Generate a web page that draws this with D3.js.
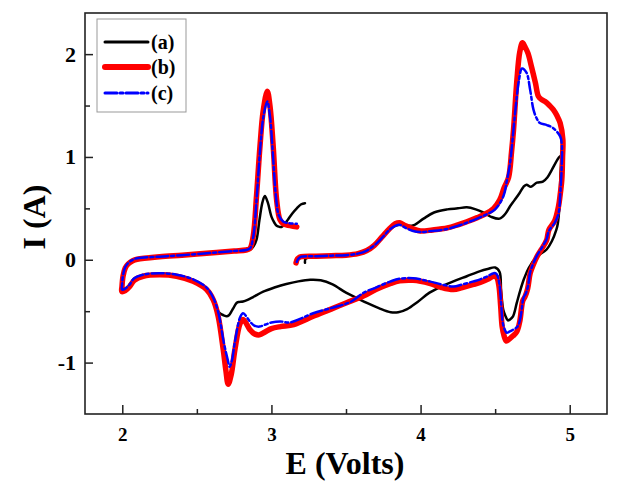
<!DOCTYPE html>
<html>
<head>
<meta charset="utf-8">
<script src="https://cdn.jsdelivr.net/npm/d3@7/dist/d3.min.js"></script>
<style>
  html, body { margin: 0; padding: 0; background: #fff; }
  svg { display: block; }
  text { font-family: "Liberation Serif", "Times New Roman", serif; font-weight: bold; fill: #000; }
</style>
</head>
<body>
<svg id="chart" width="621" height="493"></svg>
<script>
// ---- data (E in volts, I in amps) ----
const seriesLabels = ["(a)", "(b)", "(c)"];
const xTicks = [2, 3, 4, 5];
const xMinorTicks = [2.5, 3.5, 4.5];
const yTicks = [-1, 0, 1, 2];
const yMinorTicks = [-0.5, 0.5, 1.5];

const curveA = [[3.225,-0.03],[3.23,0.01],[3.30,0.03],[3.40,0.035],[3.50,0.045],[3.58,0.06],[3.64,0.09],[3.69,0.14],[3.74,0.22],[3.79,0.29],[3.83,0.33],[3.87,0.34],[3.92,0.33],[3.96,0.34],[4.02,0.40],[4.09,0.46],[4.18,0.49],[4.25,0.50],[4.31,0.51],[4.37,0.49],[4.42,0.46],[4.47,0.42],[4.53,0.40],[4.57,0.45],[4.60,0.52],[4.63,0.58],[4.664,0.65],[4.69,0.71],[4.71,0.73],[4.74,0.71],[4.78,0.75],[4.82,0.76],[4.85,0.80],[4.88,0.875],[4.925,0.99],[4.94,1.01],[4.937,0.80],[4.93,0.50],[4.92,0.35],[4.91,0.29],[4.88,0.18],[4.845,0.10],[4.78,0.03],[4.725,-0.08],[4.695,-0.18],[4.67,-0.29],[4.645,-0.42],[4.62,-0.55],[4.60,-0.58],[4.585,-0.59],[4.57,-0.55],[4.555,-0.49],[4.54,-0.30],[4.53,-0.12],[4.50,-0.075],[4.45,-0.09],[4.40,-0.11],[4.31,-0.16],[4.22,-0.21],[4.14,-0.26],[4.06,-0.32],[3.98,-0.41],[3.91,-0.48],[3.85,-0.51],[3.80,-0.51],[3.72,-0.47],[3.64,-0.42],[3.57,-0.37],[3.50,-0.32],[3.41,-0.24],[3.33,-0.20],[3.26,-0.195],[3.18,-0.21],[3.10,-0.235],[3.02,-0.27],[2.945,-0.31],[2.88,-0.36],[2.84,-0.39],[2.81,-0.405],[2.78,-0.41],[2.766,-0.42],[2.745,-0.47],[2.733,-0.50],[2.715,-0.54],[2.70,-0.55],[2.68,-0.54],[2.654,-0.52],[2.63,-0.47],[2.60,-0.37],[2.565,-0.29],[2.475,-0.20],[2.364,-0.15],[2.25,-0.135],[2.14,-0.15],[2.08,-0.19],[2.05,-0.24],[2.02,-0.28],[1.998,-0.29],[2.0,-0.24],[2.005,-0.15],[2.02,-0.07],[2.04,-0.03],[2.07,0.0],[2.10,0.01],[2.25,0.03],[2.40,0.045],[2.587,0.063],[2.75,0.08],[2.83,0.09],[2.86,0.10],[2.88,0.13],[2.90,0.195],[2.92,0.39],[2.94,0.56],[2.956,0.62],[2.975,0.56],[3.00,0.42],[3.02,0.36],[3.035,0.33],[3.055,0.32],[3.07,0.32],[3.09,0.35],[3.11,0.39],[3.14,0.45],[3.17,0.50],[3.20,0.54],[3.225,0.55]];

const curveB = [[3.165,-0.03],[3.175,0.01],[3.20,0.03],[3.30,0.035],[3.40,0.04],[3.50,0.045],[3.58,0.06],[3.64,0.09],[3.69,0.14],[3.74,0.22],[3.79,0.30],[3.83,0.35],[3.86,0.36],[3.90,0.33],[3.95,0.30],[4.00,0.28],[4.08,0.29],[4.18,0.31],[4.25,0.34],[4.31,0.37],[4.38,0.41],[4.44,0.45],[4.49,0.50],[4.53,0.58],[4.56,0.70],[4.59,0.80],[4.61,1.05],[4.623,1.26],[4.646,1.75],[4.665,2.02],[4.683,2.11],[4.70,2.07],[4.72,2.01],[4.745,1.87],[4.77,1.72],[4.79,1.59],[4.81,1.56],[4.835,1.54],[4.865,1.50],[4.89,1.46],[4.915,1.40],[4.936,1.33],[4.954,1.17],[4.952,1.0],[4.947,0.78],[4.935,0.62],[4.925,0.52],[4.90,0.38],[4.86,0.29],[4.845,0.19],[4.81,0.10],[4.78,0.03],[4.755,-0.05],[4.735,-0.13],[4.718,-0.28],[4.70,-0.36],[4.685,-0.40],[4.665,-0.60],[4.645,-0.70],[4.62,-0.74],[4.595,-0.77],[4.575,-0.79],[4.56,-0.74],[4.547,-0.65],[4.537,-0.45],[4.525,-0.25],[4.51,-0.17],[4.49,-0.16],[4.45,-0.19],[4.40,-0.22],[4.355,-0.24],[4.28,-0.27],[4.22,-0.29],[4.14,-0.27],[4.06,-0.23],[3.95,-0.20],[3.86,-0.205],[3.80,-0.23],[3.70,-0.29],[3.62,-0.35],[3.50,-0.42],[3.40,-0.48],[3.28,-0.55],[3.15,-0.63],[3.06,-0.65],[3.00,-0.67],[2.96,-0.70],[2.92,-0.73],[2.885,-0.72],[2.856,-0.68],[2.81,-0.58],[2.79,-0.62],[2.755,-0.875],[2.73,-1.12],[2.71,-1.21],[2.695,-1.08],[2.677,-0.875],[2.643,-0.55],[2.61,-0.39],[2.565,-0.29],[2.475,-0.21],[2.364,-0.16],[2.25,-0.146],[2.14,-0.16],[2.08,-0.20],[2.05,-0.26],[2.02,-0.30],[1.997,-0.31],[1.998,-0.26],[2.005,-0.16],[2.02,-0.08],[2.04,-0.04],[2.07,-0.01],[2.10,0.005],[2.25,0.03],[2.40,0.045],[2.587,0.065],[2.75,0.085],[2.83,0.095],[2.856,0.11],[2.878,0.23],[2.90,0.62],[2.923,1.10],[2.945,1.45],[2.972,1.64],[2.99,1.50],[3.012,1.10],[3.035,0.58],[3.057,0.39],[3.08,0.35],[3.10,0.34],[3.17,0.32]];

const curveC = [[3.17,-0.02],[3.18,0.01],[3.20,0.03],[3.30,0.035],[3.40,0.04],[3.50,0.045],[3.58,0.06],[3.64,0.09],[3.69,0.14],[3.74,0.21],[3.79,0.29],[3.83,0.33],[3.86,0.34],[3.90,0.31],[3.95,0.28],[4.00,0.27],[4.08,0.28],[4.18,0.30],[4.25,0.33],[4.31,0.36],[4.38,0.40],[4.44,0.44],[4.50,0.49],[4.556,0.62],[4.58,0.78],[4.60,0.94],[4.634,1.43],[4.66,1.75],[4.68,1.86],[4.71,1.82],[4.735,1.65],[4.757,1.46],[4.78,1.37],[4.80,1.33],[4.847,1.31],[4.89,1.28],[4.936,1.20],[4.947,1.12],[4.946,0.90],[4.937,0.65],[4.925,0.45],[4.90,0.36],[4.86,0.28],[4.845,0.20],[4.81,0.11],[4.78,0.04],[4.755,-0.04],[4.735,-0.12],[4.72,-0.26],[4.705,-0.33],[4.69,-0.37],[4.67,-0.56],[4.65,-0.65],[4.62,-0.68],[4.595,-0.70],[4.578,-0.71],[4.562,-0.67],[4.55,-0.60],[4.54,-0.42],[4.528,-0.23],[4.51,-0.14],[4.49,-0.13],[4.45,-0.16],[4.40,-0.19],[4.355,-0.21],[4.28,-0.24],[4.22,-0.26],[4.14,-0.24],[4.06,-0.21],[3.95,-0.18],[3.86,-0.185],[3.80,-0.21],[3.70,-0.27],[3.62,-0.32],[3.53,-0.41],[3.40,-0.47],[3.28,-0.52],[3.20,-0.57],[3.12,-0.61],[3.06,-0.60],[3.00,-0.61],[2.96,-0.63],[2.92,-0.65],[2.885,-0.64],[2.856,-0.60],[2.81,-0.52],[2.79,-0.56],[2.755,-0.80],[2.735,-0.98],[2.72,-1.04],[2.705,-0.96],[2.68,-0.80],[2.645,-0.52],[2.61,-0.37],[2.565,-0.27],[2.475,-0.19],[2.364,-0.145],[2.25,-0.13],[2.14,-0.145],[2.08,-0.18],[2.05,-0.24],[2.02,-0.28],[1.998,-0.29],[1.999,-0.24],[2.005,-0.15],[2.02,-0.07],[2.04,-0.03],[2.07,0.0],[2.10,0.015],[2.25,0.03],[2.40,0.045],[2.587,0.065],[2.75,0.085],[2.83,0.095],[2.856,0.11],[2.878,0.22],[2.90,0.58],[2.923,1.05],[2.945,1.38],[2.972,1.54],[2.99,1.40],[3.01,1.02],[3.03,0.62],[3.05,0.43],[3.08,0.37],[3.12,0.355],[3.17,0.35]];

// ---- layout ----
const svg = d3.select("#chart");
const plotLeft = 85, plotRight = 607, plotTop = 13, plotBottom = 414;
const x = d3.scaleLinear().domain([1.75, 5.25]).range([plotLeft, plotRight]);
const y = d3.scaleLinear().domain([-1.5, 2.4]).range([plotBottom, plotTop]);

const series = [
  { label: seriesLabels[0], data: curveA, color: "#000000", width: 2.5, dash: null },
  { label: seriesLabels[1], data: curveB, color: "#ff0000", width: 5.5, dash: null },
  { label: seriesLabels[2], data: curveC, color: "#0000ff", width: 2.5, dash: "12,3,3,3" }
];

const line = d3.line()
  .x(d => x(d[0]))
  .y(d => y(d[1]))
  .curve(d3.curveCatmullRom.alpha(0.5));

series.forEach(s => {
  svg.append("path")
    .attr("d", line(s.data))
    .attr("fill", "none")
    .attr("stroke", s.color)
    .attr("stroke-width", s.width)
    .attr("stroke-linejoin", "round")
    .attr("stroke-linecap", "round")
    .attr("stroke-dasharray", s.dash);
});

const fmt = d => String(d); // plain hyphen minus as in the original

// axes
const xAxis = svg.append("g").attr("transform", `translate(0,${plotBottom})`)
  .call(d3.axisBottom(x).tickValues(xTicks).tickSize(-9).tickSizeOuter(0).tickPadding(14).tickFormat(fmt));
const xMinor = svg.append("g").attr("transform", `translate(0,${plotBottom})`)
  .call(d3.axisBottom(x).tickValues(xMinorTicks).tickSize(-5).tickSizeOuter(0).tickFormat(""));
const yAxis = svg.append("g").attr("transform", `translate(${plotLeft},0)`)
  .call(d3.axisLeft(y).tickValues(yTicks).tickSize(-8).tickSizeOuter(0).tickPadding(9).tickFormat(fmt));
const yMinor = svg.append("g").attr("transform", `translate(${plotLeft},0)`)
  .call(d3.axisLeft(y).tickValues(yMinorTicks).tickSize(-5).tickSizeOuter(0).tickFormat(""));

[xAxis, xMinor, yAxis, yMinor].forEach(g => {
  g.select(".domain").remove();
  g.selectAll(".tick line").attr("stroke", "#222").attr("stroke-width", 1.5);
  g.selectAll(".tick text")
    .style("font-family", '"Liberation Serif", "Times New Roman", serif')
    .style("font-weight", "bold")
    .attr("fill", "#000");
});
xAxis.selectAll(".tick text").style("font-size", "19px");
yAxis.selectAll(".tick text").style("font-size", "22px");

// frame
svg.append("rect")
  .attr("x", plotLeft).attr("y", plotTop)
  .attr("width", plotRight - plotLeft).attr("height", plotBottom - plotTop)
  .attr("fill", "none").attr("stroke", "#222").attr("stroke-width", 1.6);

// axis titles
svg.append("text")
  .attr("x", 345).attr("y", 474)
  .attr("text-anchor", "middle")
  .style("font-size", "32px")
  .text("E (Volts)");

svg.append("text")
  .attr("transform", `translate(45,217) rotate(-90)`)
  .attr("text-anchor", "middle")
  .style("font-size", "32px")
  .text("I (A)");

// legend
const lg = svg.append("g");
lg.append("rect")
  .attr("x", 97).attr("y", 19).attr("width", 89).attr("height", 93)
  .attr("fill", "#fff").attr("stroke", "#999").attr("stroke-width", 1);
const legendY = [42, 67, 93];
series.forEach((s, i) => {
  lg.append("line")
    .attr("x1", 105).attr("x2", 148)
    .attr("y1", legendY[i]).attr("y2", legendY[i])
    .attr("stroke", s.color)
    .attr("stroke-width", s.width > 4 ? 6 : 3)
    .attr("stroke-linecap", "round")
    .attr("stroke-dasharray", s.dash);
  lg.append("text")
    .attr("x", 151).attr("y", legendY[i])
    .attr("dy", "0.33em")
    .style("font-size", "20px")
    .text(s.label);
});
</script>
</body>
</html>
